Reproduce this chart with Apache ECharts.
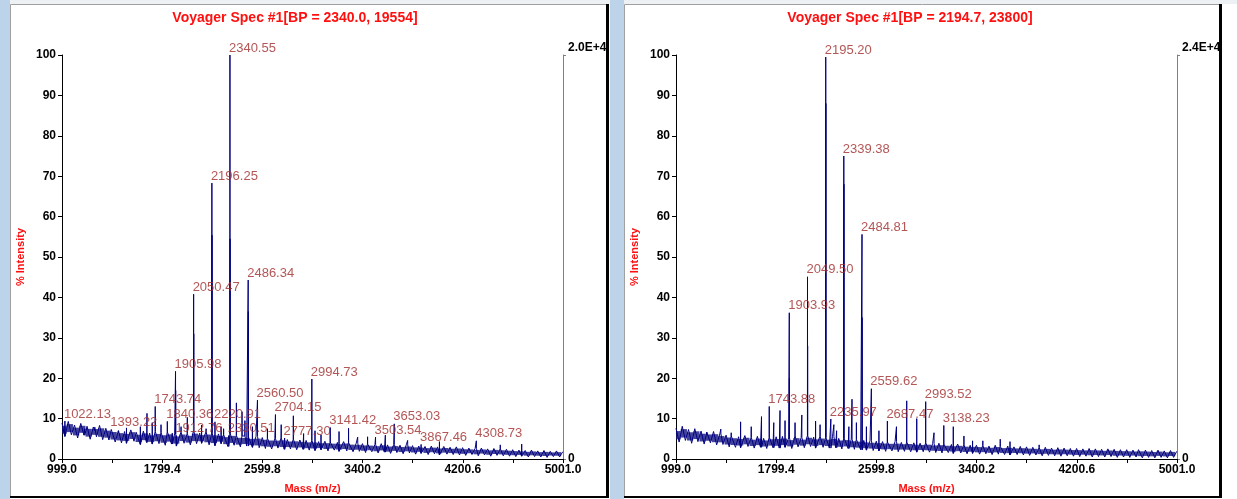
<!DOCTYPE html>
<html>
<head>
<meta charset="utf-8">
<script src="https://cdn.jsdelivr.net/npm/echarts@6/dist/echarts.min.js"></script>
<style>
html,body{margin:0;padding:0;background:#fff;}
#main{width:1237px;height:499px;}
</style>
</head>
<body>
<div id="main"></div>
<script>
// mass axis
var massMin = 999.0, massMax = 5001.0, massStep = 800.4;
var baseStep = 25;   // baseline sampled every 25 Da from massMin

var titles = ['Voyager Spec #1[BP = 2340.0, 19554]', 'Voyager Spec #1[BP = 2194.7, 23800]'];
var absLabels = ['2.0E+4', '2.4E+4'];

// ---- left spectrum ----
var leftBase = [
  8.9, 5.6, 9.3, 6.0, 8.4, 5.2, 8.8, 5.9, 8.1, 4.9, 7.9, 5.5, 8.3, 4.8, 7.6, 4.7,
  7.3, 4.2, 7.0, 4.0, 6.8, 3.9, 7.2, 4.4, 6.6, 3.6, 6.9, 4.1, 6.4, 3.7, 6.8, 3.8,
  6.5, 3.4, 6.7, 3.7, 6.2, 3.2, 6.6, 3.9, 6.3, 3.5, 6.9, 3.8, 6.4, 3.9, 6.7, 3.5,
  6.5, 3.3, 6.2, 3.8, 6.0, 3.1, 6.3, 3.4, 5.8, 3.0, 5.7, 3.2, 5.5, 2.9, 5.6, 2.8,
  5.3, 2.6, 5.1, 2.5, 5.0, 2.7, 5.2, 2.4, 4.8, 2.5, 4.9, 2.3, 4.7, 2.4, 4.6, 2.2,
  4.6, 2.1, 4.3, 2.3, 4.4, 2.0, 4.2, 2.2, 4.1, 1.9, 4.3, 2.0, 4.0, 1.8, 3.9, 1.9,
  3.8, 1.6, 3.7, 1.8, 3.6, 1.5, 3.8, 1.7, 3.5, 1.4, 3.6, 1.6, 3.4, 1.3, 3.5, 1.5,
  3.3, 1.2, 3.2, 1.4, 3.1, 1.1, 3.2, 1.3, 3.0, 1.0, 3.1, 1.2, 2.9, 1.1, 3.0, 1.0,
  2.8, 0.9, 2.7, 1.1, 2.6, 0.8, 2.7, 1.0, 2.5, 0.7, 2.6, 0.9, 2.5, 0.8, 2.4, 0.7,
  2.3, 0.6, 2.2, 0.7, 2.1, 0.5, 2.2, 0.6, 2.0, 0.5, 2.1, 0.4, 1.9, 0.6, 2.0, 0.5, 1.8
];
var leftLabelMass = [1022.13, 1393.22, 1743.74, 1840.36, 1905.98, 1912.76, 2050.47, 2196.25, 2220.91, 2330.51, 2340.55,
                     2486.34, 2560.50, 2704.15, 2777.30, 2994.73, 3141.42, 3503.54, 3653.03, 3867.46, 4308.73];
var leftLabelInt  = [9.4, 7.3, 13.0, 9.3, 21.7, 5.8, 40.8, 68.3, 9.2, 5.8, 100,
                     44.3, 14.6, 11.0, 5.2, 19.8, 7.8, 5.4, 8.7, 3.6, 4.5];
var leftIsoMass = [1907.0, 2051.5, 2197.3, 2341.6, 2487.4];
var leftIsoInt  = [17, 31, 55.4, 54.5, 36.5];
var leftMinorMass = [1180, 1260, 1450, 1514, 1593, 1625, 1678, 1720, 1790, 1880, 1950, 2000, 2114, 2150, 2270, 2290, 2392, 2437,
                     2460, 2520, 2640, 2750, 2847, 2929, 3020, 3068, 3212, 3288, 3361, 3440, 3582, 3760, 4014, 4500, 4671];
var leftMinorInt  = [7.5, 7.0, 6.5, 7.7, 6.8, 8.0, 11.3, 9.0, 8.5, 6.4, 8.0, 10.3, 8.4, 7.5, 8.0, 7.5, 13.9, 11.7,
                     9.5, 8.0, 7.5, 8.5, 10.7, 6.3, 7.0, 6.0, 6.8, 7.6, 5.4, 5.5, 5.9, 4.6, 4.3, 3.5, 3.7];

// ---- right spectrum ----
var rightBase = [
  7.6, 4.2, 8.1, 4.6, 7.3, 3.9, 7.5, 4.3, 6.9, 3.7, 6.6, 4.0, 6.8, 3.5, 6.2, 3.6,
  5.9, 3.0, 5.7, 2.9, 5.5, 2.8, 5.8, 3.1, 5.3, 2.7, 5.6, 2.9, 5.1, 2.6, 5.4, 2.8,
  5.5, 2.7, 5.6, 2.9, 5.2, 2.6, 5.7, 3.0, 5.3, 2.8, 5.8, 3.1, 5.4, 2.7, 5.6, 2.9,
  5.3, 2.7, 5.5, 2.8, 5.1, 2.5, 5.2, 2.6, 4.9, 2.4, 4.8, 2.3, 4.6, 2.2, 4.5, 2.1,
  4.4, 2.0, 4.3, 1.9, 4.2, 2.0, 4.3, 1.8, 4.1, 1.9, 4.2, 1.8, 4.0, 1.7, 3.9, 1.8,
  4.0, 1.7, 3.8, 1.6, 3.9, 1.5, 3.7, 1.6, 3.6, 1.4, 3.7, 1.5, 3.5, 1.3, 3.4, 1.4,
  3.4, 1.2, 3.3, 1.3, 3.2, 1.1, 3.4, 1.2, 3.1, 1.1, 3.2, 1.0, 3.0, 1.1, 3.1, 1.0,
  3.0, 0.9, 2.9, 1.0, 2.8, 0.8, 2.9, 0.9, 2.7, 0.8, 2.8, 0.7, 2.7, 0.8, 2.6, 0.7,
  2.6, 0.6, 2.5, 0.7, 2.6, 0.5, 2.5, 0.6, 2.4, 0.5, 2.5, 0.6, 2.4, 0.4, 2.3, 0.5,
  2.3, 0.4, 2.2, 0.5, 2.3, 0.3, 2.2, 0.4, 2.1, 0.3, 2.2, 0.4, 2.0, 0.3, 2.1, 0.4, 1.9
];
var rightLabelMass = [1743.88, 1903.93, 2049.50, 2195.20, 2235.97, 2339.38, 2484.81, 2559.62, 2687.47, 2993.52, 3138.23];
var rightLabelInt  = [13.0, 36.2, 45.1, 99.5, 9.9, 75.0, 55.6, 17.4, 9.4, 14.2, 8.3];
var rightIsoMass = [1905.0, 2050.5, 2196.2, 2340.4, 2485.8];
var rightIsoInt  = [20, 28, 88, 68, 35];
var rightMinorMass = [1150, 1245, 1357, 1440, 1515, 1600, 1682, 1780, 1830, 1870, 1950, 2004, 2114, 2150, 2260, 2282, 2380, 2405,
                      2440, 2520, 2620, 2760, 2842, 2922, 3060, 3214, 3299, 3368, 3450, 3589, 3667, 3900, 4300, 4694];
var rightMinorInt  = [7.5, 6.0, 7.4, 6.5, 9.2, 8.0, 10.5, 9.0, 12.0, 9.5, 9.0, 10.9, 9.4, 8.5, 8.5, 7.0, 8.0, 14.8,
                      9.0, 8.0, 7.0, 8.0, 14.4, 10.0, 6.5, 8.0, 5.7, 4.5, 4.5, 4.9, 4.3, 3.5, 3.0, 2.4];

var FONT = '"Liberation Sans", Arial, sans-serif';
var RED = '#ff1010';
var PEAK_LABEL = '#a02c2c';
var TRACE = '#000080';

// join baseline and stick peaks into one trace, ordered by mass
function spectrum(base, masses, ints) {
  var pts = base.map(function (v, i) { return [massMin + baseStep * i, v]; });
  for (var g = 0; g < masses.length; g++) {
    for (var i = 0; i < masses[g].length; i++) {
      var m = masses[g][i];
      var b = base[Math.min(base.length - 1, Math.round((m - massMin) / baseStep))];
      pts.push([m - 0.6, b], [m, ints[g][i]], [m + 0.6, b]);
    }
  }
  pts.sort(function (a, b) { return a[0] - b[0]; });
  return pts;
}

// dense noise floor: core of each zigzag pair as [mass, low, high]
function noiseBand(base) {
  var out = [];
  for (var k = 0; k + 1 < base.length; k += 2) {
    var lo = Math.min(base[k], base[k + 1]), hi = Math.max(base[k], base[k + 1]);
    var d = hi - lo;
    out.push([massMin + baseStep * (k + 0.5), lo + 0.2 * d, hi - 0.2 * d]);
  }
  return out;
}

function labelPoints(masses, ints) {
  return masses.map(function (m, i) { return [m, ints[i]]; });
}

function xAxisFor(idx) {
  return {
    type: 'value', gridIndex: idx, min: massMin, max: massMax, interval: massStep,
    name: 'Mass (m/z)', nameLocation: 'middle', nameGap: 24,
    nameTextStyle: { color: RED, fontWeight: 'bold', fontSize: 11, fontFamily: FONT },
    axisLine: { lineStyle: { color: '#000', width: 1 } },
    axisTick: { length: 4, lineStyle: { color: '#000' } },
    minorTick: { show: true, splitNumber: 2, length: 4, lineStyle: { color: '#000' } },
    axisLabel: { color: '#000', fontWeight: 'bold', fontSize: 12, fontFamily: FONT, margin: 5,
      formatter: function (v) { return v.toFixed(1); } },
    splitLine: { show: false }
  };
}

function yLeftFor(idx) {
  return {
    type: 'value', gridIndex: idx, position: 'left', min: 0, max: 100, interval: 10,
    name: '% Intensity', nameLocation: 'middle', nameGap: 36,
    nameTextStyle: { color: RED, fontWeight: 'bold', fontSize: 11, fontFamily: FONT },
    axisLine: { show: true, lineStyle: { color: '#000' } },
    axisTick: { show: true, length: 4, lineStyle: { color: '#000' } },
    axisLabel: { color: '#000', fontWeight: 'bold', fontSize: 12, fontFamily: FONT, margin: 6 },
    splitLine: { show: false }
  };
}

function yRightFor(idx, topText) {
  return {
    type: 'value', gridIndex: idx, position: 'right', min: 0, max: 100, interval: 100,
    axisLine: { show: true, lineStyle: { color: '#808080' } },
    axisTick: { show: true, length: 3, lineStyle: { color: '#808080' } },
    axisLabel: {
      margin: 5, color: '#000', fontWeight: 'bold', fontSize: 12, fontFamily: FONT,
      formatter: function (v) { return v === 100 ? '{t|' + topText + '}' : '0'; },
      rich: { t: { fontWeight: 'bold', fontSize: 12, fontFamily: FONT, color: '#000', padding: [0, 0, 14, 0] } }
    },
    splitLine: { show: false }
  };
}

function traceSeries(xi, yi, data) {
  return {
    type: 'line', xAxisIndex: xi, yAxisIndex: yi, data: data,
    showSymbol: false, symbol: 'none', silent: true,
    lineStyle: { color: TRACE, width: 1 }, z: 3
  };
}

function bandSeries(xi, yi, data) {
  return {
    type: 'custom', xAxisIndex: xi, yAxisIndex: yi, data: data, silent: true, clip: true, z: 2,
    renderItem: function (params, api) {
      var m = api.value(0);
      var p1 = api.coord([m - baseStep, api.value(1)]);
      var p2 = api.coord([m + baseStep, api.value(2)]);
      return {
        type: 'rect',
        shape: { x: p1[0], y: p2[1], width: p2[0] - p1[0], height: p1[1] - p2[1] },
        style: { fill: '#141482', opacity: 0.8 }
      };
    }
  };
}

function labelSeries(xi, yi, data) {
  return {
    type: 'scatter', xAxisIndex: xi, yAxisIndex: yi, data: data,
    symbolSize: 1, itemStyle: { color: 'rgba(0,0,0,0)' }, silent: true, z: 4,
    label: {
      show: true, position: 'top', distance: 0, align: 'left', offset: [-1, 0],
      color: PEAK_LABEL, fontSize: 13, fontFamily: FONT,
      formatter: function (p) { return p.value[0].toFixed(2); }
    }
  };
}

var chart = echarts.init(document.getElementById('main'), null, { renderer: 'canvas' });

var option = {
  animation: false,
  graphic: [
    { type: 'rect', shape: { x: 0, y: 0, width: 1237, height: 4 }, style: { fill: '#eef1f4' }, z: -10 },
    { type: 'rect', shape: { x: 0, y: 0, width: 10, height: 499 }, style: { fill: '#bcd3ea' }, z: -10 },
    { type: 'rect', shape: { x: 610, y: 0, width: 14, height: 499 }, style: { fill: '#bcd3ea' }, z: -10 },
    { type: 'rect', shape: { x: 10.5, y: 4.5, width: 597, height: 492 }, style: { fill: 'none', stroke: '#a0a0a0', lineWidth: 1 }, z: -9 },
    { type: 'rect', shape: { x: 606, y: 4, width: 3, height: 494 }, style: { fill: '#000' }, z: -8 },
    { type: 'rect', shape: { x: 10, y: 496, width: 599, height: 2 }, style: { fill: '#000' }, z: -8 },
    { type: 'rect', shape: { x: 624.5, y: 4.5, width: 596, height: 492 }, style: { fill: 'none', stroke: '#a0a0a0', lineWidth: 1 }, z: -9 },
    { type: 'rect', shape: { x: 1219, y: 4, width: 3, height: 494 }, style: { fill: '#000' }, z: -8 },
    { type: 'rect', shape: { x: 624, y: 496, width: 598, height: 2 }, style: { fill: '#000' }, z: -8 },
    { type: 'text', x: 295, y: 18, style: { text: titles[0], fill: RED, font: 'bold 14px ' + FONT, textAlign: 'center', textVerticalAlign: 'middle' } },
    { type: 'text', x: 910, y: 18, style: { text: titles[1], fill: RED, font: 'bold 14px ' + FONT, textAlign: 'center', textVerticalAlign: 'middle' } }
  ],
  grid: [
    { left: 62, right: 1237 - 563, top: 55, bottom: 40, outerBoundsMode: 'none', containLabel: false },
    { left: 676, right: 1237 - 1177, top: 55, bottom: 40, outerBoundsMode: 'none', containLabel: false }
  ],
  xAxis: [xAxisFor(0), xAxisFor(1)],
  yAxis: [yLeftFor(0), yRightFor(0, absLabels[0]), yLeftFor(1), yRightFor(1, absLabels[1])],
  series: [
    bandSeries(0, 0, noiseBand(leftBase)),
    traceSeries(0, 0, spectrum(leftBase, [leftLabelMass, leftIsoMass, leftMinorMass], [leftLabelInt, leftIsoInt, leftMinorInt])),
    labelSeries(0, 0, labelPoints(leftLabelMass, leftLabelInt)),
    bandSeries(1, 2, noiseBand(rightBase)),
    traceSeries(1, 2, spectrum(rightBase, [rightLabelMass, rightIsoMass, rightMinorMass], [rightLabelInt, rightIsoInt, rightMinorInt])),
    labelSeries(1, 2, labelPoints(rightLabelMass, rightLabelInt))
  ]
};

chart.setOption(option);
</script>
</body>
</html>
